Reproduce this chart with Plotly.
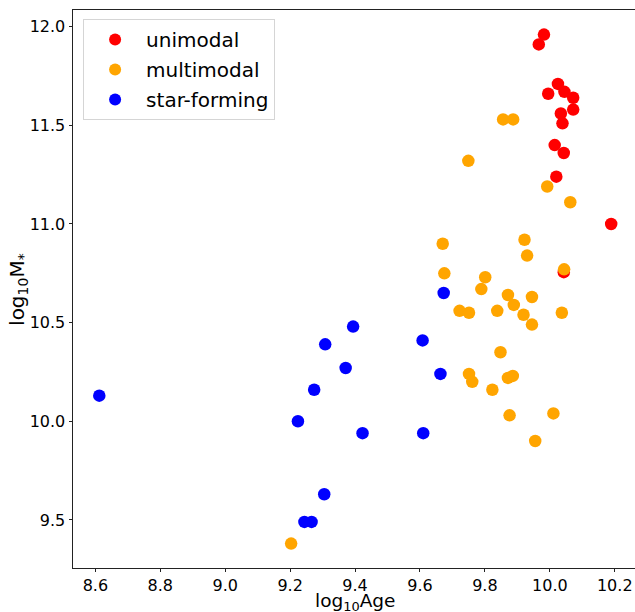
import plotly.graph_objects as go

# unimodal (red)
uni_x = [9.982, 9.966, 10.025, 9.995, 10.045, 10.072, 10.072, 10.034, 10.039, 10.015, 10.043, 10.020, 10.189, 10.043]
uni_y = [11.96, 11.91, 11.71, 11.66, 11.67, 11.64, 11.58, 11.56, 11.51, 11.40, 11.36, 11.24, 11.00, 10.756]

# multimodal (orange)
multi_x = [9.856, 9.887, 9.749, 9.992, 10.063, 9.670, 9.922, 9.930, 9.675, 10.044, 9.801, 9.789, 9.871, 9.945,
           9.889, 9.722, 9.751, 9.838, 10.037, 9.919, 9.945, 9.848, 9.751, 9.761, 9.871, 9.886, 9.823, 9.876,
           10.011, 9.955, 9.203]
multi_y = [11.53, 11.53, 11.32, 11.19, 11.11, 10.90, 10.92, 10.84, 10.75, 10.77, 10.73, 10.67, 10.64, 10.63,
           10.59, 10.56, 10.55, 10.56, 10.55, 10.54, 10.49, 10.35, 10.24, 10.20, 10.22, 10.23, 10.16, 10.03,
           10.04, 9.90, 9.38]

# star-forming (blue)
sf_x = [8.612, 9.224, 9.244, 9.266, 9.274, 9.305, 9.308, 9.371, 9.394, 9.423, 9.608, 9.610, 9.663, 9.673]
sf_y = [10.13, 10.00, 9.49, 9.49, 10.16, 9.63, 10.39, 10.27, 10.48, 9.94, 10.41, 9.94, 10.24, 10.65]

x_ticks = [8.6, 8.8, 9.0, 9.2, 9.4, 9.6, 9.8, 10.0, 10.2]
y_ticks = [9.5, 10.0, 10.5, 11.0, 11.5, 12.0]
x_title = "log<sub>10</sub>Age"
y_title = "log<sub>10</sub>M<sub>*</sub>"

FONT = "DejaVu Sans"

fig = go.Figure()
for name, xs, ys, col, grp in [("unimodal", uni_x, uni_y, "#ff0000", "a"),
                               ("multimodal", multi_x, multi_y, "#ffa500", "b"),
                               ("star-forming", sf_x, sf_y, "#0000ff", "c")]:
    fig.add_trace(go.Scatter(x=xs, y=ys, mode="markers", name=name, legendgroup=grp,
                             marker=dict(color=col, size=12.5, line=dict(width=0))))

fig.update_layout(
    width=635, height=612,
    margin=dict(l=73, r=0, t=10, b=44),
    paper_bgcolor="white", plot_bgcolor="white",
    font=dict(family=FONT, color="black", size=16),
    showlegend=True,
    legend=dict(x=0.018, y=0.984, xanchor="left", yanchor="top",
                bgcolor="white", bordercolor="#d5d5d5", borderwidth=1,
                font=dict(family=FONT, size=20), tracegroupgap=1,
                itemwidth=52, itemsizing="constant"),
    annotations=[
        dict(text=x_title, xref="paper", yref="paper", x=0.502, y=-0.0605,
             xanchor="center", yanchor="middle", showarrow=False, borderpad=0,
             font=dict(size=18.5)),
        dict(text=y_title, xref="paper", yref="paper", x=-0.098, y=0.5, textangle=-90,
             xanchor="center", yanchor="middle", showarrow=False, font=dict(size=20)),
    ],
)
fig.update_xaxes(range=[8.531, 10.2624], tickvals=x_ticks, ticktext=[f"{v:.1f}" for v in x_ticks],
                 showgrid=False, zeroline=False, showline=True, linecolor="#222", linewidth=1,
                 mirror=True, ticks="outside", ticklen=3, tickcolor="#222",
                 tickfont=dict(size=16), automargin=False)
fig.update_yaxes(range=[9.2564, 12.0846], tickvals=y_ticks, ticktext=[f"{v:.1f}" for v in y_ticks],
                 showgrid=False, zeroline=False, showline=True, linecolor="#222", linewidth=1,
                 mirror=False, ticks="outside", ticklen=3.5, tickcolor="#222",
                 tickfont=dict(size=16), automargin=False)

fig.write_html("out.html")
